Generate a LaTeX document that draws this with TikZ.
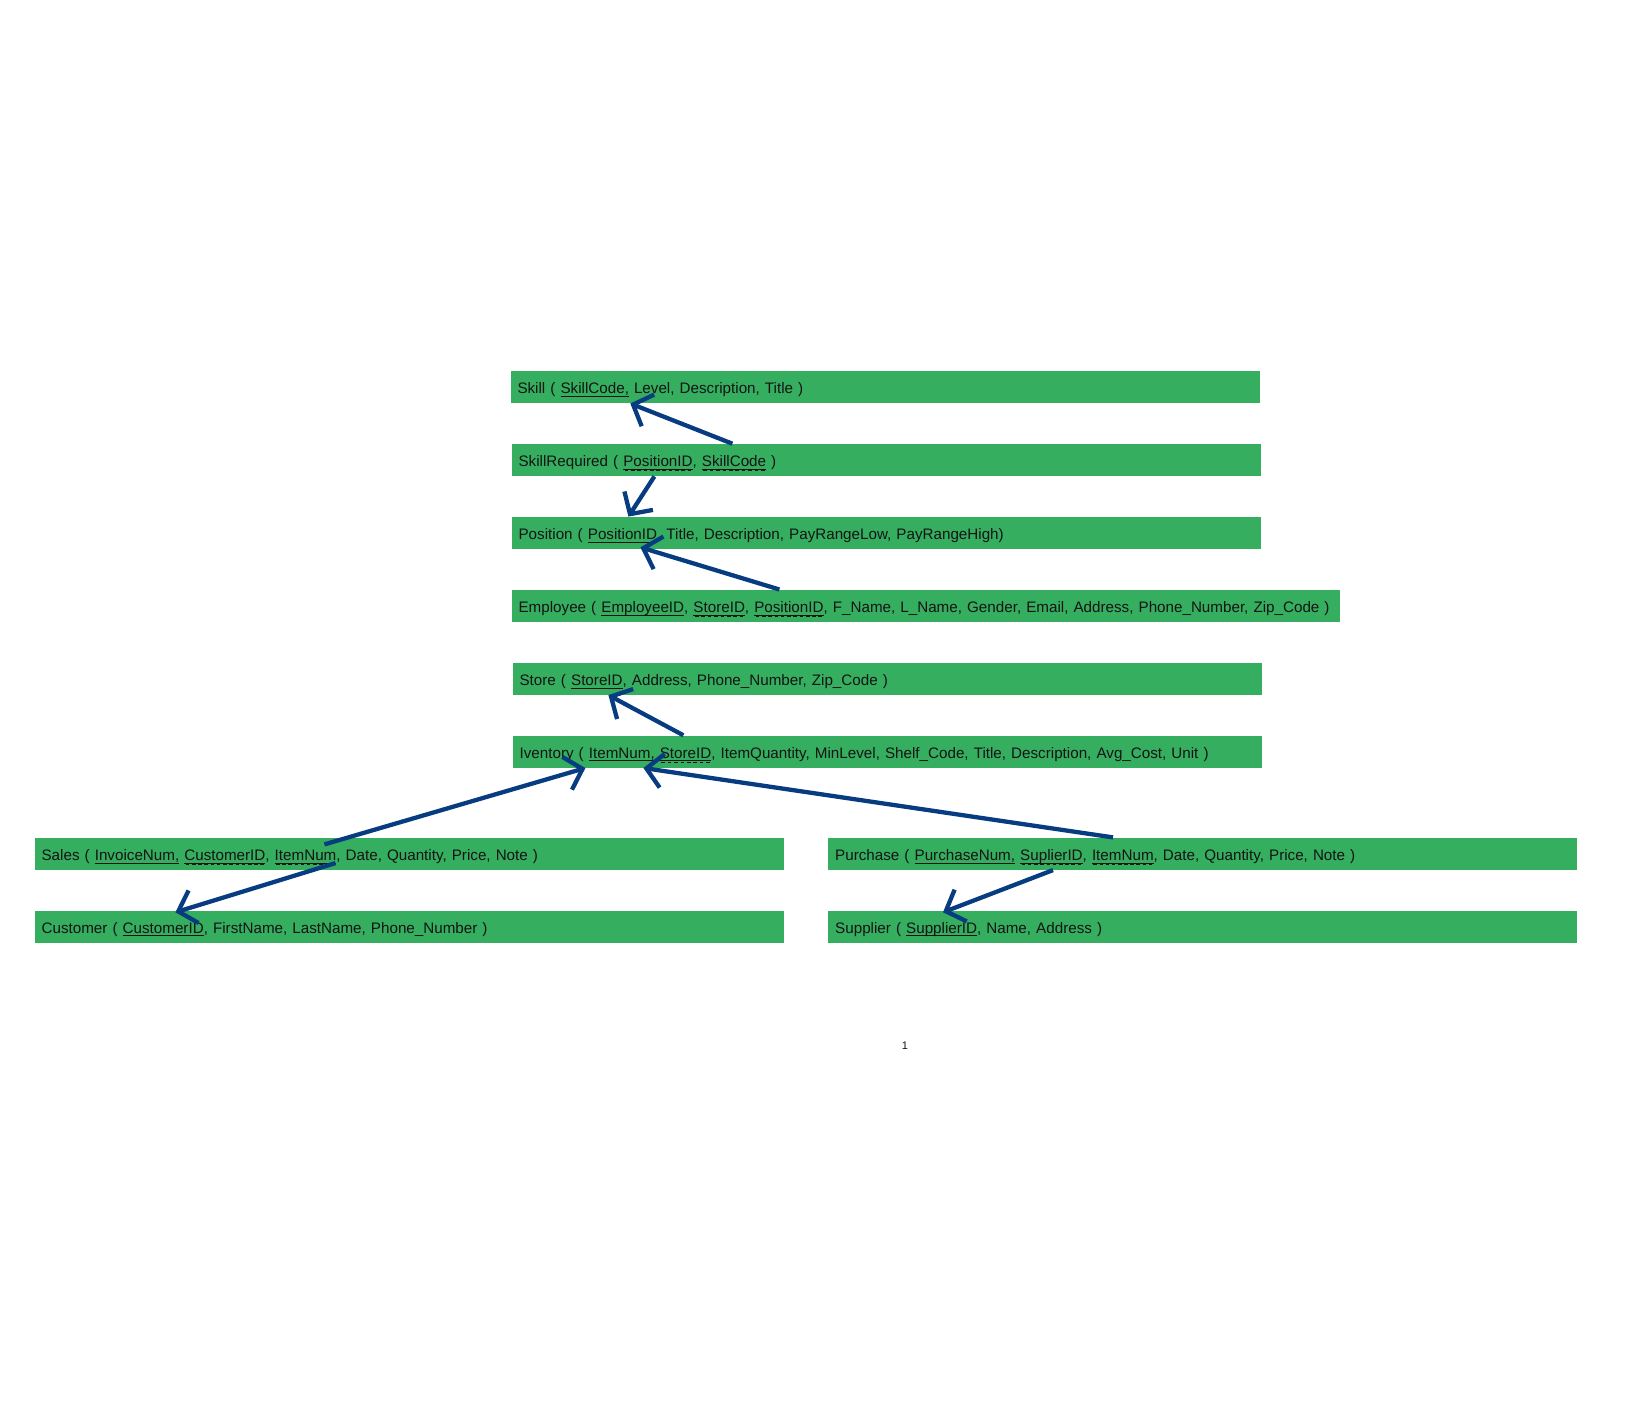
\documentclass[tikz,border=0pt]{standalone}
\usepackage{fontspec}
\setmainfont{Liberation Sans}
\usetikzlibrary{arrows.meta}
\definecolor{boxgreen}{HTML}{35AE60}
\definecolor{arrowblue}{HTML}{083C80}
\definecolor{inkblack}{HTML}{141414}
\newcommand\pkey[1]{\setbox0\hbox{#1}\rlap{\rule[-3.2pt]{\wd0}{0.9pt}}\box0\relax}
\newcommand\fkey[1]{\setbox0\hbox{#1}\rlap{\rule[-3.2pt]{\wd0}{0.9pt}}\rlap{\hbox to\wd0{\xleaders\hbox{\kern1.2pt\rule[-4.8pt]{3.6pt}{1.2pt}\kern1.2pt}\hfill}}\box0\relax}
\tikzset{
  rel/.style={anchor=north west, fill=boxgreen, minimum height=32.3pt,
    inner xsep=7pt, inner ysep=0pt, text width=#1-14pt, align=left,
    text height=15pt, text depth=2pt, text=inkblack,
    font=\fontsize{15.2}{18}\selectfont},
  conn/.style={draw=arrowblue, line width=4.3pt,
    -{Straight Barb[length=16pt, width=34pt]}},
}
\begin{document}
\begin{tikzpicture}[x=1pt, y=-1pt]
\useasboundingbox (0,0) rectangle (1633,1426);
\node[rel=749pt] (skill) at (510.3,370.8) {\mbox{Skill ( \pkey{SkillCode,} Level, Description, Title )}};
\node[rel=749pt] (skillreq) at (511.4,443.7) {\mbox{SkillRequired ( \fkey{PositionID}, \fkey{SkillCode} )}};
\node[rel=749pt] (position) at (511.4,516.6) {\mbox{Position ( \pkey{PositionID}, Title, Description, PayRangeLow, PayRangeHigh)}};
\node[rel=828pt] (employee) at (511.4,589.5) {\mbox{Employee ( \pkey{EmployeeID}, \fkey{StoreID}, \fkey{PositionID}, F\_Name, L\_Name, Gender, Email, Address, Phone\_Number, Zip\_Code )}};
\node[rel=749pt] (store) at (512.4,662.4) {\mbox{Store ( \pkey{StoreID}, Address, Phone\_Number, Zip\_Code )}};
\node[rel=749pt] (inventory) at (512.4,735.3) {\mbox{Iventory ( \pkey{ItemNum, }\fkey{StoreID}, ItemQuantity, MinLevel, Shelf\_Code, Title, Description, Avg\_Cost, Unit )}};
\node[rel=749pt] (sales) at (34.4,837.4) {\mbox{Sales ( \pkey{InvoiceNum,} \fkey{CustomerID}, \fkey{ItemNum}, Date, Quantity, Price, Note )}};
\node[rel=749pt] (purchase) at (828,837.4) {\mbox{Purchase ( \pkey{PurchaseNum,} \fkey{SuplierID}, \fkey{ItemNum}, Date, Quantity, Price, Note )}};
\node[rel=749pt] (customer) at (34.4,910.3) {\mbox{Customer ( \pkey{CustomerID}, FirstName, LastName, Phone\_Number )}};
\node[rel=749pt] (supplier) at (828,910.3) {\mbox{Supplier ( \pkey{SupplierID}, Name, Address )}};
\node[text=inkblack, font=\fontsize{11}{12}\selectfont] (pagenum) at (905,1046) {1};

\draw[conn] ([xshift=221pt]skillreq.north west) -- ([xshift=120pt]skill.south west);
\draw[conn] ([xshift=143pt]skillreq.south west) -- ([xshift=117pt]position.north west);
\draw[conn] ([xshift=268pt]employee.north west) -- ([xshift=129pt,yshift=2pt]position.south west);
\draw[conn] ([xshift=171pt]inventory.north west) -- ([xshift=96pt]store.south west);
\draw[conn] ([xshift=290pt,yshift=-7pt]sales.north west) -- ([xshift=73pt]inventory.south west);
\draw[conn] ([xshift=285pt]purchase.north west) -- ([xshift=131pt]inventory.south west);
\draw[conn] ([xshift=301pt,yshift=7pt]sales.south west) -- ([xshift=141pt,yshift=-2pt]customer.north west);
\draw[conn] ([xshift=225pt]purchase.south west) -- ([xshift=115pt,yshift=-2pt]supplier.north west);
\end{tikzpicture}
\end{document}
